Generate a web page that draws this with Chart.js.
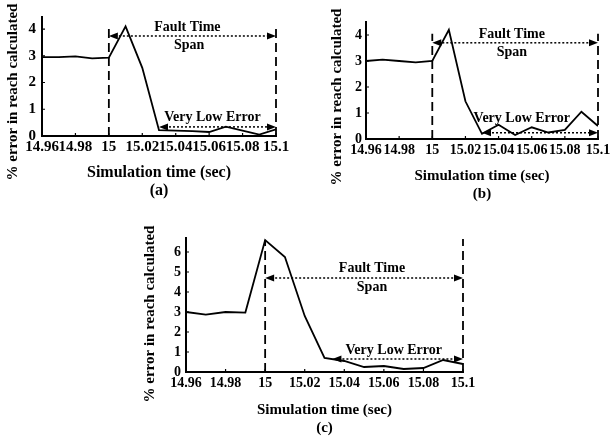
<!DOCTYPE html>
<html>
<head>
<meta charset="utf-8">
<script src="https://cdn.jsdelivr.net/npm/chart.js@4/dist/chart.umd.min.js"></script>
<style>
  html, body { margin: 0; padding: 0; background: #fff; }
  body { width: 616px; height: 437px; position: relative; overflow: hidden; }
  canvas { position: absolute; }
  #chartA { left: 0; top: 0; }
  #chartB { left: 300px; top: 0; }
  #chartC { left: 130px; top: 200px; }
</style>
</head>
<body>
<canvas id="chartA" width="300" height="200"></canvas>
<canvas id="chartB" width="316" height="205"></canvas>
<canvas id="chartC" width="350" height="237"></canvas>
<script>
// simulation time (sec)
const times = [14.96, 14.97, 14.98, 14.99, 15.00, 15.01, 15.02, 15.03, 15.04, 15.05, 15.06, 15.07, 15.08, 15.09, 15.10];

// % error in reach calculated
const errA = [2.95, 2.95, 2.98, 2.9, 2.93, 4.1, 2.55, 0.22, 0.2, 0.18, 0.15, 0.35, 0.2, 0.05, 0.25];
const errB = [3.0, 3.05, 3.0, 2.95, 3.0, 4.2, 1.45, 0.2, 0.55, 0.15, 0.45, 0.25, 0.35, 1.05, 0.5];
const errC = [3.0, 2.87, 3.0, 2.97, 6.6, 5.75, 2.8, 0.7, 0.55, 0.25, 0.3, 0.15, 0.2, 0.6, 0.4];

const xTicks = [14.96, 14.98, 15, 15.02, 15.04, 15.06, 15.08, 15.1];
const xTickLabels = ['14.96', '14.98', '15', '15.02', '15.04', '15.06', '15.08', '15.1'];
const yTicksAB = [0, 1, 2, 3, 4];
const yTicksC = [0, 1, 2, 3, 4, 5, 6];

const xTitle = 'Simulation time (sec)';
const yTitle = '% error in reach calculated';
const faultText = ['Fault Time', 'Span'];
const lowText = 'Very Low Error';

const FONT = '"Liberation Serif", "Times New Roman", serif';

// draws inner tick marks, dashed fault lines, dotted arrows and labels
const annotPlugin = {
  id: 'annot',
  afterDatasetsDraw(chart, args, o) {
    const { ctx, chartArea: ca } = chart;
    const x = chart.scales.x, y = chart.scales.y;
    const X = v => x.getPixelForValue(v);
    const Y = v => y.getPixelForValue(v);
    ctx.save();
    ctx.strokeStyle = '#000';
    ctx.fillStyle = '#000';

    // small tick marks pointing inwards
    ctx.lineWidth = 1.2;
    ctx.beginPath();
    x.ticks.forEach(t => { const px = X(t.value); ctx.moveTo(px, ca.bottom); ctx.lineTo(px, ca.bottom - 3); });
    y.ticks.forEach(t => { const py = Y(t.value); ctx.moveTo(ca.left, py); ctx.lineTo(ca.left + 3, py); });
    ctx.stroke();

    // dashed vertical lines
    ctx.lineWidth = 1.8;
    ctx.setLineDash([9, 5]);
    o.vlines.forEach(v => {
      ctx.beginPath();
      ctx.moveTo(X(v.x), Y(0));
      ctx.lineTo(X(v.x), Y(v.top));
      ctx.stroke();
    });

    // dotted double arrows
    ctx.lineWidth = 1.5;
    ctx.setLineDash([2, 2]);
    o.arrows.forEach(a => {
      const x0 = X(a.x0), x1 = X(a.x1), py = Y(a.y);
      ctx.beginPath();
      ctx.moveTo(x0 + 6, py);
      ctx.lineTo(x1 - 6, py);
      ctx.stroke();
      ctx.beginPath();
      ctx.moveTo(x0, py); ctx.lineTo(x0 + 9, py - 3.5); ctx.lineTo(x0 + 9, py + 3.5); ctx.closePath();
      ctx.moveTo(x1, py); ctx.lineTo(x1 - 9, py - 3.5); ctx.lineTo(x1 - 9, py + 3.5); ctx.closePath();
      ctx.fill();
    });
    ctx.setLineDash([]);

    // annotation text
    ctx.font = 'bold 14px ' + FONT;
    ctx.textAlign = 'center';
    ctx.textBaseline = 'middle';
    o.labels.forEach(l => ctx.fillText(l.text, X(l.x), Y(l.y)));

    // y axis title
    ctx.font = 'bold 15px ' + FONT;
    ctx.translate(o.yTitlePos[0], o.yTitlePos[1]);
    ctx.rotate(-Math.PI / 2);
    ctx.fillText(yTitle, 0, 0);
    ctx.restore();
  }
};

function makeChart(id, err, yTicks, opt) {
  return new Chart(document.getElementById(id), {
    type: 'line',
    data: {
      datasets: [{
        data: times.map((t, i) => ({ x: t, y: err[i] })),
        borderColor: '#000',
        borderWidth: 1.8,
        pointRadius: 0,
        tension: 0,
        fill: false
      }]
    },
    options: {
      responsive: false,
      animation: false,
      devicePixelRatio: 1,
      layout: { padding: opt.padding },
      plugins: {
        legend: { display: false },
        tooltip: { enabled: false },
        annot: opt.annot
      },
      scales: {
        x: {
          type: 'linear',
          min: 14.96,
          max: 15.1,
          afterBuildTicks: s => { s.ticks = xTicks.map(v => ({ value: v })); },
          afterFit: s => { s.height = opt.xHeight; },
          grid: { display: false, drawTicks: false },
          border: { display: true, color: '#000', width: 2 },
          ticks: {
            autoSkip: false,
            maxRotation: 0,
            padding: opt.xPad,
            color: '#000',
            font: { family: FONT, weight: 'bold', size: opt.tickSize },
            callback: (v, i) => xTickLabels[i]
          },
          title: {
            display: true,
            text: [xTitle, opt.caption],
            color: '#000',
            padding: 0,
            font: { family: FONT, weight: 'bold', size: opt.titleSize, lineHeight: '18px' }
          }
        },
        y: {
          min: 0,
          max: opt.yMax,
          afterBuildTicks: s => { s.ticks = yTicks.map(v => ({ value: v })); },
          afterFit: s => { s.width = opt.yWidth; },
          grid: { display: false, drawTicks: false },
          border: { display: true, color: '#000', width: 2 },
          ticks: {
            padding: opt.yPad,
            color: '#000',
            font: { family: FONT, weight: 'bold', size: opt.tickSize }
          }
        }
      }
    },
    plugins: [annotPlugin]
  });
}

makeChart('chartA', errA, yTicksAB, {
  padding: { top: 17, right: 24, bottom: 0, left: 0 },
  yMax: 4.45, yWidth: 42, xHeight: 64, xPad: 2, yPad: 6,
  tickSize: 15, titleSize: 16, caption: '(a)',
  annot: {
    vlines: [{ x: 15, top: 4.05 }, { x: 15.1, top: 4.05 }],
    arrows: [{ x0: 15, x1: 15.1, y: 3.74 }, { x0: 15.03, x1: 15.1, y: 0.34 }],
    labels: [
      { text: faultText[0], x: 15.047, y: 4.07 },
      { text: faultText[1], x: 15.048, y: 3.37 },
      { text: lowText, x: 15.062, y: 0.71 }
    ],
    yTitlePos: [13, 92]
  }
});

makeChart('chartB', errB, yTicksAB, {
  padding: { top: 22, right: 18, bottom: 2, left: 0 },
  yMax: 4.5, yWidth: 66, xHeight: 64, xPad: 3, yPad: 4,
  tickSize: 14, titleSize: 15, caption: '(b)',
  annot: {
    vlines: [{ x: 15, top: 4.05 }, { x: 15.1, top: 4.05 }],
    arrows: [{ x0: 15, x1: 15.1, y: 3.7 }, { x0: 15.03, x1: 15.1, y: 0.24 }],
    labels: [
      { text: faultText[0], x: 15.048, y: 4.04 },
      { text: faultText[1], x: 15.048, y: 3.35 },
      { text: lowText, x: 15.054, y: 0.8 }
    ],
    yTitlePos: [37, 97]
  }
});

makeChart('chartC', errC, yTicksC, {
  padding: { top: 38, right: 17, bottom: 0, left: 0 },
  yMax: 6.7, yWidth: 56, xHeight: 65, xPad: 3, yPad: 5,
  tickSize: 14, titleSize: 15, caption: '(c)',
  annot: {
    vlines: [{ x: 15, top: 6.6 }, { x: 15.1, top: 6.65 }],
    arrows: [{ x0: 15, x1: 15.1, y: 4.7 }, { x0: 15.034, x1: 15.1, y: 0.65 }],
    labels: [
      { text: faultText[0], x: 15.054, y: 5.2 },
      { text: faultText[1], x: 15.054, y: 4.25 },
      { text: lowText, x: 15.065, y: 1.1 }
    ],
    yTitlePos: [20, 114]
  }
});
</script>
</body>
</html>
